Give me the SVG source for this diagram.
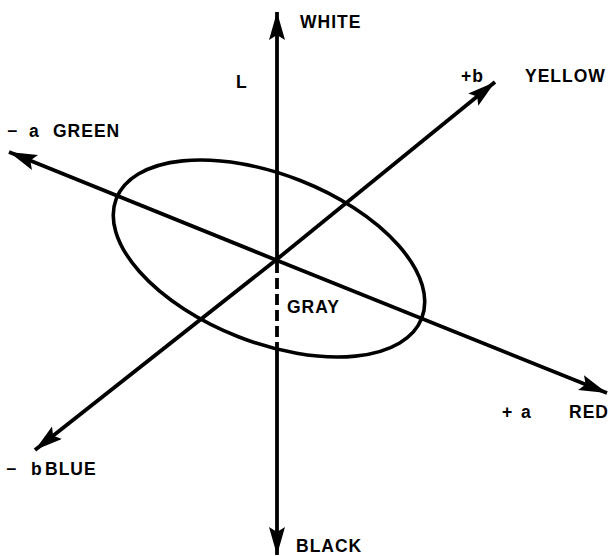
<svg xmlns="http://www.w3.org/2000/svg" width="608" height="556" viewBox="0 0 608 556">
<style>
.ax{stroke:#000;stroke-width:3.8;fill:none}
.el{stroke:#000;stroke-width:3.6;fill:none}
.t{font-family:"Liberation Sans",Arial,sans-serif;font-weight:bold;font-size:17.5px;letter-spacing:1px;fill:#000}
</style>
<defs>
<marker id="ah" markerUnits="userSpaceOnUse" markerWidth="32" markerHeight="18" refX="28" refY="8" orient="auto">
<path d="M0,0 L28,8 L0,16 L5,8 Z" fill="#000"/>
</marker>
</defs>
<rect width="608" height="556" fill="#fff"/>
<g id="ellipse">
<ellipse class="el" cx="269" cy="258.5" rx="164" ry="84" transform="rotate(21.4 269 258.5)"/>
</g>
<g id="connectors">
<line class="ax" x1="277" y1="262" x2="277" y2="12" marker-end="url(#ah)"/>
<line class="ax" x1="277" y1="262" x2="277" y2="345" stroke-dasharray="11,5"/>
<line class="ax" x1="277" y1="344" x2="277" y2="555" marker-end="url(#ah)"/>
<line class="ax" x1="276" y1="260" x2="9" y2="152" marker-end="url(#ah)"/>
<line class="ax" x1="276" y1="260" x2="607" y2="393" marker-end="url(#ah)"/>
<line class="ax" x1="276" y1="260" x2="495" y2="82" marker-end="url(#ah)"/>
<line class="ax" x1="276" y1="260" x2="35" y2="450" marker-end="url(#ah)"/>
</g>
<g id="labels">
<text class="t" x="300" y="28">WHITE</text>
<text class="t" x="236" y="88">L</text>
<text class="t" y="82"><tspan x="461">+b</tspan></text>
<text class="t" x="525" y="82">YELLOW</text>
<text class="t" y="137"><tspan x="7">−</tspan><tspan x="29">a</tspan></text>
<text class="t" x="53" y="137">GREEN</text>
<text class="t" x="287" y="313">GRAY</text>
<text class="t" y="418"><tspan x="502">+</tspan><tspan x="521">a</tspan></text>
<text class="t" x="569" y="418">RED</text>
<text class="t" y="475"><tspan x="6">−</tspan><tspan x="31">b</tspan></text>
<text class="t" x="45" y="475">BLUE</text>
<text class="t" x="296" y="552">BLACK</text>
</g>
</svg>
